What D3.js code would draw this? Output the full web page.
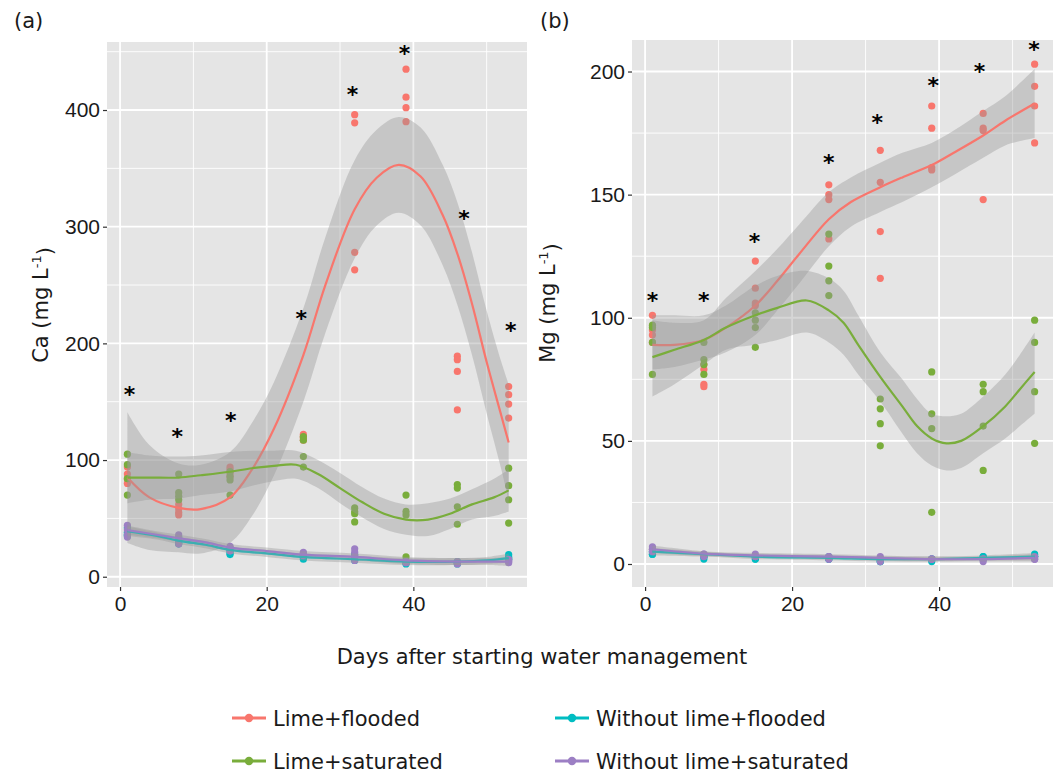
<!DOCTYPE html>
<html>
<head>
<meta charset="utf-8">
<script src="https://cdn.jsdelivr.net/npm/d3@7"></script>
<style>
  body { margin: 0; background: #fff; }
  svg { display: block; font-family: "DejaVu Sans", sans-serif; }
</style>
</head>
<body>
<svg id="chart" width="1064" height="776"></svg>
<script>
// sampling days and treatments
const days = [1, 8, 15, 25, 32, 39, 46, 53];
const treatments = ["Lime+flooded", "Lime+saturated", "Without lime+flooded", "Without lime+saturated"];
const colors = ["#F8766D", "#79AD3B", "#00BDC2", "#9C7FC4"];

// tick labels
const dayTicks = [0, 20, 40];
const caTicks = [0, 100, 200, 300, 400];
const mgTicks = [0, 50, 100, 150, 200];

// Ca (mg/L), four replicates per sampling day
const caLimeFlooded = [[94,88,84,80],[62,58,55,53],[94,92,89,86],[122,120,119,117],[396,389,278,263],[435,411,402,390],[189,186,176,143],[163,156,148,136]];
const caLimeSaturated = [[105,96,84,70],[88,72,69,66],[90,86,83,70],[120,117,103,94],[59,56,54,47],[70,56,53,17],[79,76,60,45],[93,78,66,46]];
const caNoLimeFlooded = [[42,38,36,35],[34,31,29,28],[24,22,20,19],[18,17,16,15],[19,17,15,14],[13,12,12,11],[13,12,12,11],[19,17,16,15]];
const caNoLimeSaturated = [[44,40,36,34],[36,33,31,28],[26,25,24,22],[21,20,19,18],[24,21,18,14],[13,13,12,12],[13,12,12,11],[15,14,13,12]];

// Mg (mg/L), four replicates per sampling day
const mgLimeFlooded = [[101,95,93,90],[81,79,73,72],[123,112,106,105],[154,150,148,132],[168,155,135,116],[186,177,161,160],[183,177,176,148],[203,194,186,171]];
const mgLimeSaturated = [[97,96,90,77],[90,83,81,77],[102,99,96,88],[134,121,115,109],[67,63,57,48],[78,61,55,21],[73,70,56,38],[99,90,70,49]];
const mgNoLimeFlooded = [[5,5,4,4],[3,3,3,2],[3,3,2,2],[3,2,2,2],[2,2,1,1],[2,2,2,1],[3,3,2,2],[4,3,3,3]];
const mgNoLimeSaturated = [[7,6,6,5],[4,4,3,3],[4,3,3,3],[3,3,2,2],[3,2,2,1],[2,2,2,2],[2,2,2,1],[3,2,2,2]];

// loess fits (fit, upper and lower band)
const caLFDays = [1,4,8,11,15,18,21,25,28,32,35,38,41,44,46,48,50,52,53];
const caLFFit = [85,68,59,58,68,92,127,190,250,315,342,353,343,310,277,234,184,138,115];
const caLFHi = [141,113,97,96,107,132,167,230,291,357,383,394,385,353,321,278,228,184,165];
const caLFLo = [29,23,21,20,29,52,87,150,209,273,301,312,301,267,233,190,140,92,65];

const caLSDays = [1,4,8,11,15,18,21,24,27,30,33,36,39,42,45,48,51,53];
const caLSFit = [85,85,85,87,90,93,95,96,88,76,64,54,49,49,54,62,68,74];
const caLSHi = [107,104,103,104,107,108,108,108,100,89,77,67,62,63,67,75,84,92];
const caLSLo = [63,66,67,70,73,78,82,84,76,63,51,41,36,35,41,49,52,56];

const caNLDays = [1,5,8,12,15,20,25,32,39,46,50,53];
const caNLFFit = [39,35,31,27,23,20,17,15,13,13,14,16];
const caNLFHi = [43,38,34,30,26,23,20,18,16,16,17,20];
const caNLFLo = [35,32,28,24,20,17,14,12,10,10,11,12];
const caNLSFit = [40,36,33,29,25,22,19,17,14,13,13,13];
const caNLSHi = [44,39,36,32,28,25,22,20,17,16,16,17];
const caNLSLo = [36,33,30,26,22,19,16,14,11,10,10,9];

const mgLFDays = [1,4,8,11,15,18,21,25,28,32,35,39,42,46,49,53];
const mgLFFit = [89,89,91,96,105,115,126,140,147,153,157,162,167,174,180,187];
const mgLFHi = [99,98,99,108,119,128,138,151,157,163,167,171,176,184,190,201];
const mgLFLo = [79,80,83,86,93,103,114,129,137,143,147,153,158,165,170,173];

const mgLSDays = [1,4,8,11,15,18,22,25,27,29,32,35,37,39,41,43,46,49,51,53];
const mgLSFit = [84,87,91,96,101,104,107,103,98,89,76,64,56,51,49,50,56,64,71,78];
const mgLSHi = [101,101,101,105,113,117,119,116,111,101,86,75,67,61,60,61,68,77,85,94];
const mgLSLo = [68,73,81,87,89,91,94,90,85,77,66,53,45,40,38,39,45,51,56,61];

const mgNLDays = [1,8,15,25,32,39,46,53];
const mgNLFFit = [5,4,3,2.5,2,2,2.5,3];
const mgNLFHi = [6.5,5,4,3.5,3,3,3.5,4.5];
const mgNLFLo = [3.5,3,2,1.5,1,1,1.5,1.5];
const mgNLSFit = [6,4.2,3.5,3,2.5,2,2,2.5];
const mgNLSHi = [7.5,5.2,4.5,4,3.5,3,3,4];
const mgNLSLo = [4.5,3.2,2.5,2,1.5,1,1,1];

// significance stars (x position, y value)
const caStarX = [1.3, 7.8, 15.1, 24.7, 31.7, 38.8, 46.9, 53.3];
const caStarY = [160, 124, 138, 225, 417, 452, 311, 215];
const mgStarX = [1.0, 8.0, 14.9, 25.0, 31.6, 39.2, 45.5, 52.9];
const mgStarY = [109, 109, 133, 165, 181, 196, 202, 211];

const svg = d3.select("#chart");
const textColor = "#1a1a1a";

function fitRows(fd, fit, hi, lo) {
  return fd.map((d, i) => ({ d: d, f: fit[i], hi: hi[i], lo: lo[i] }));
}

function drawPanel(cfg) {
  const x = d3.scaleLinear().domain([-1.78, 55.5]).range([cfg.left, cfg.right]);
  const y = d3.scaleLinear().domain(cfg.yDomain).range([cfg.bottom, cfg.top]);
  const g = svg.append("g");

  g.append("rect")
    .attr("x", cfg.left).attr("y", cfg.top)
    .attr("width", cfg.right - cfg.left).attr("height", cfg.bottom - cfg.top)
    .attr("fill", "#E5E5E5");

  // minor grid halfway between the major ticks
  const step = cfg.ticks[1] - cfg.ticks[0];
  const yMinor = cfg.ticks.map(t => t + step / 2).filter(t => y(t) > cfg.top);
  const xMinor = dayTicks.map(t => t + 10);
  g.selectAll(".ymin").data(yMinor).join("line")
    .attr("x1", cfg.left).attr("x2", cfg.right)
    .attr("y1", d => y(d)).attr("y2", d => y(d))
    .attr("stroke", "#fff").attr("stroke-width", 0.9);
  g.selectAll(".xmin").data(xMinor).join("line")
    .attr("y1", cfg.top).attr("y2", cfg.bottom)
    .attr("x1", d => x(d)).attr("x2", d => x(d))
    .attr("stroke", "#fff").attr("stroke-width", 0.9);
  g.selectAll(".ymaj").data(cfg.ticks).join("line")
    .attr("x1", cfg.left).attr("x2", cfg.right)
    .attr("y1", d => y(d)).attr("y2", d => y(d))
    .attr("stroke", "#fff").attr("stroke-width", 1.8);
  g.selectAll(".xmaj").data(dayTicks).join("line")
    .attr("y1", cfg.top).attr("y2", cfg.bottom)
    .attr("x1", d => x(d)).attr("x2", d => x(d))
    .attr("stroke", "#fff").attr("stroke-width", 1.8);

  // axes
  const yAxis = g.append("g")
    .attr("transform", `translate(${cfg.left},0)`)
    .call(d3.axisLeft(y).tickValues(cfg.ticks).tickSize(4).tickPadding(3));
  const xAxis = g.append("g")
    .attr("transform", `translate(0,${cfg.bottom})`)
    .call(d3.axisBottom(x).tickValues(dayTicks).tickSize(4).tickPadding(5));
  [yAxis, xAxis].forEach(a => {
    a.select(".domain").remove();
    a.selectAll(".tick line").attr("stroke", "#333").attr("stroke-width", 1.2);
    a.selectAll(".tick text").attr("fill", textColor).style("font-size", "21px");
  });

  // raw points
  cfg.points.forEach((series, k) => {
    const pts = [];
    series.forEach((reps, i) => reps.forEach(v => pts.push({ d: days[i], v: v })));
    g.append("g").selectAll("circle").data(pts).join("circle")
      .attr("cx", p => x(p.d)).attr("cy", p => y(p.v))
      .attr("r", 3.6).attr("fill", colors[k]);
  });

  // smooths: band then line, group by group
  const area = d3.area().x(r => x(r.d)).y0(r => y(r.lo)).y1(r => y(r.hi))
    .curve(d3.curveCatmullRom.alpha(0.5));
  const line = d3.line().x(r => x(r.d)).y(r => y(r.f))
    .curve(d3.curveCatmullRom.alpha(0.5));
  cfg.fits.forEach((rows, k) => {
    g.append("path").datum(rows).attr("d", area)
      .attr("fill", "#999").attr("fill-opacity", 0.4);
    g.append("path").datum(rows).attr("d", line)
      .attr("fill", "none").attr("stroke", colors[k]).attr("stroke-width", 2.2);
  });

  // stars
  g.selectAll(".star").data(cfg.starX).join("text")
    .attr("x", (d, i) => x(d)).attr("y", (d, i) => y(cfg.starY[i]))
    .attr("dy", "0.55em").attr("text-anchor", "middle")
    .style("font-size", "22px").style("font-weight", "bold")
    .attr("fill", "#000").text("*");

  // y title
  const ty = g.append("text")
    .attr("transform", `translate(${cfg.titleX},${cfg.titleY}) rotate(-90)`)
    .attr("text-anchor", "middle").attr("fill", textColor)
    .style("font-size", "21px");
  ty.append("tspan").text(cfg.title + " (mg L");
  ty.append("tspan").text("-1").attr("dy", "-0.55em").style("font-size", "13px");
  ty.append("tspan").text(")").attr("dy", "0.55em");

  svg.append("text").attr("x", cfg.labelX).attr("y", 28)
    .attr("fill", textColor).style("font-size", "21px").text(cfg.label);
}

drawPanel({
  left: 107, right: 527, top: 42, bottom: 587, yDomain: [-8.8, 458.3],
  ticks: caTicks, label: "(a)", labelX: 14, title: "Ca", titleX: 48, titleY: 305,
  points: [caLimeFlooded, caLimeSaturated, caNoLimeFlooded, caNoLimeSaturated],
  fits: [fitRows(caLFDays, caLFFit, caLFHi, caLFLo), fitRows(caLSDays, caLSFit, caLSHi, caLSLo),
         fitRows(caNLDays, caNLFFit, caNLFHi, caNLFLo), fitRows(caNLDays, caNLSFit, caNLSHi, caNLSLo)],
  starX: caStarX, starY: caStarY
});

drawPanel({
  left: 632, right: 1053, top: 40, bottom: 587, yDomain: [-9.34, 212.8],
  ticks: mgTicks, label: "(b)", labelX: 540, title: "Mg", titleX: 555, titleY: 303,
  points: [mgLimeFlooded, mgLimeSaturated, mgNoLimeFlooded, mgNoLimeSaturated],
  fits: [fitRows(mgLFDays, mgLFFit, mgLFHi, mgLFLo), fitRows(mgLSDays, mgLSFit, mgLSHi, mgLSLo),
         fitRows(mgNLDays, mgNLFFit, mgNLFHi, mgNLFLo), fitRows(mgNLDays, mgNLSFit, mgNLSHi, mgNLSLo)],
  starX: mgStarX, starY: mgStarY
});

svg.append("text").attr("x", 542).attr("y", 664)
  .attr("text-anchor", "middle").attr("fill", textColor)
  .style("font-size", "21px").text("Days after starting water management");

// legend, two columns of two rows
const legend = svg.append("g");
const legX = [232, 555];
const legY = [718, 761];
treatments.forEach((t, i) => {
  const gx = legX[i < 2 ? 0 : 1];
  const gy = legY[i % 2];
  legend.append("line").attr("x1", gx).attr("x2", gx + 34)
    .attr("y1", gy).attr("y2", gy).attr("stroke", colors[i]).attr("stroke-width", 3);
  legend.append("circle").attr("cx", gx + 17).attr("cy", gy).attr("r", 4.2).attr("fill", colors[i]);
  legend.append("text").attr("x", gx + 41).attr("y", gy).attr("dy", "0.36em")
    .attr("fill", textColor).style("font-size", "21px").text(t);
});
</script>
</body>
</html>
